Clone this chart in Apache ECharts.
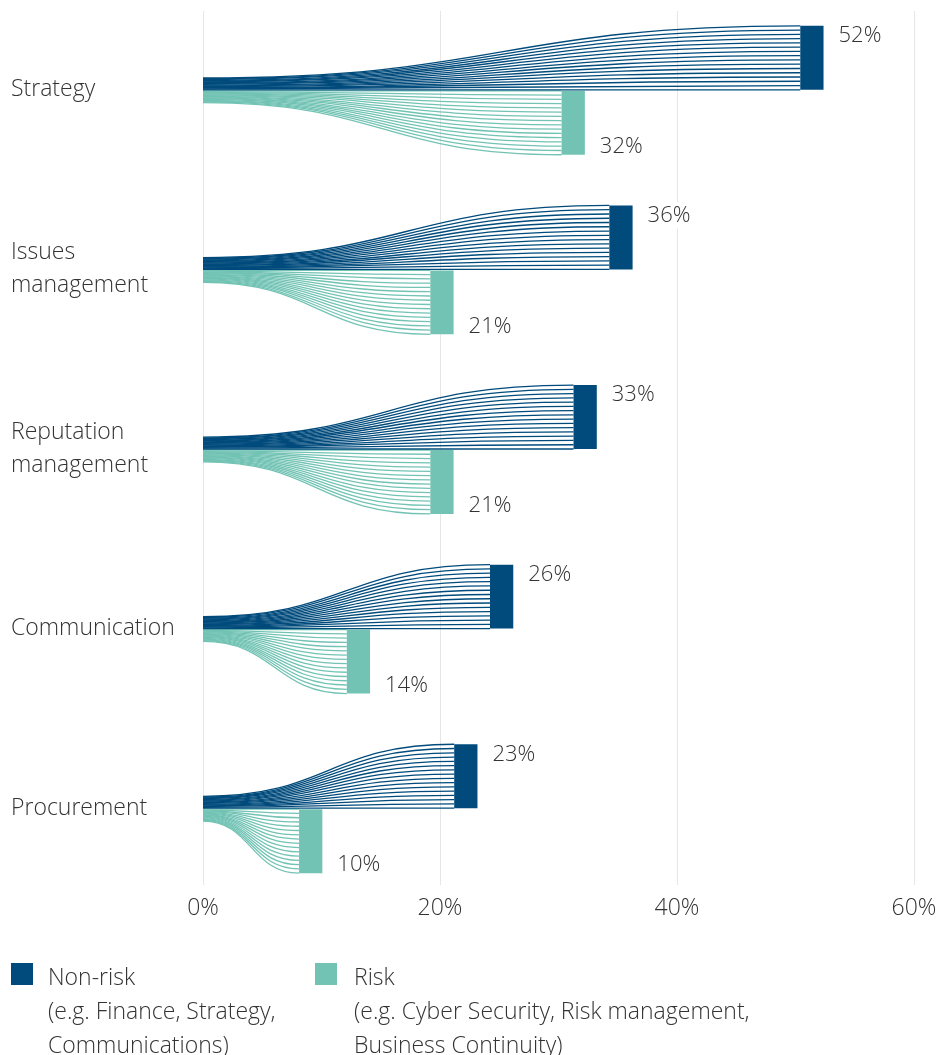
<!DOCTYPE html>
<html>
<head>
<meta charset="utf-8">
<script src="https://cdn.jsdelivr.net/npm/echarts@6/dist/echarts.min.js"></script>
<style>
  html, body { margin: 0; padding: 0; background: #fff; }
  #chart { width: 952px; height: 1055px; }
</style>
</head>
<body>
<div id="chart"></div>
<script>
const categories = ['Strategy', 'Issues\nmanagement', 'Reputation\nmanagement', 'Communication', 'Procurement'];
const nonRisk = [52, 36, 33, 26, 23];
const risk = [32, 21, 21, 14, 10];
const xTicks = [0, 20, 40, 60];
const seriesNames = ['Non-risk', 'Risk'];
const legendNotes = ['(e.g. Finance, Strategy,\nCommunications)', '(e.g. Cyber Security, Risk management,\nBusiness Continuity)'];

const COLORS = ['#004b7c', '#72c3b4'];
const FONT = "'Open Sans', 'Noto Sans', sans-serif";
const TEXT = '#333333';
const N_LINES = 16;
const BAR_W = 1.95; // in axis units (%)

function makeRender(kind) {
  return function (params, api) {
    const v = api.value(0);
    const ci = api.value(1);
    const base = api.coord([0, ci]);
    const end = api.coord([v, ci]);
    const barStart = api.coord([v - BAR_W, ci]);
    const band = api.size([0, 1])[1];
    const barH = band * 0.356;
    const stemH = band * 0.066;
    const dir = kind === 0 ? -1 : 1;
    const anchor = kind === 0 ? base[1] : base[1] + 1;
    const color = COLORS[kind];
    const children = [];
    for (let k = 0; k < N_LINES; k++) {
      const f = k / (N_LINES - 1);
      const ys = anchor + dir * f * stemH;
      const ye = anchor + dir * f * barH;
      const x1 = base[0], x2 = barStart[0];
      const cx = (x1 + x2) / 2;
      children.push({
        type: 'bezierCurve',
        shape: { x1: x1, y1: ys, x2: x2, y2: ye, cpx1: cx, cpy1: ys, cpx2: cx, cpy2: ye },
        style: { stroke: color, lineWidth: 1.3, fill: null }
      });
    }
    const top = Math.min(anchor, anchor + dir * barH);
    children.push({
      type: 'rect',
      shape: { x: barStart[0], y: top, width: end[0] - barStart[0], height: barH },
      style: { fill: color }
    });
    children.push({
      type: 'text',
      x: end[0] + 11,
      y: kind === 0 ? top - 3 : top + barH + 5,
      style: {
        text: v + '%',
        fontFamily: FONT,
        fontSize: 22,
        fontWeight: 300,
        fill: TEXT,
        align: 'left',
        verticalAlign: kind === 0 ? 'top' : 'bottom',
        backgroundColor: '#fff',
        padding: [2, 4, 2, 4]
      }
    });
    return { type: 'group', children: children };
  };
}

const chart = echarts.init(document.getElementById('chart'), null, { renderer: 'canvas' });

const option = {
  backgroundColor: '#fff',
  animation: false,
  textStyle: { fontFamily: FONT },
  grid: [
    { left: 203, right: 33, top: -2, height: 900 },
    { left: 203, right: 38, top: 11, height: 874 }
  ],
  xAxis: [
    { gridIndex: 0, type: 'value', min: 0, max: 60, show: false },
    {
      gridIndex: 1, type: 'value', min: 0, max: 60, interval: 20,
      axisLine: { show: false }, axisTick: { show: false },
      splitLine: { show: true, lineStyle: { color: '#e6e6e6', width: 1 } },
      axisLabel: {
        formatter: function (val) { return xTicks.indexOf(val) >= 0 ? val + '%' : ''; },
        fontFamily: FONT, fontSize: 23, fontWeight: 300, color: TEXT, margin: 12
      }
    }
  ],
  yAxis: [
    {
      gridIndex: 0, type: 'category', data: categories, inverse: true,
      axisLine: { show: false }, axisTick: { show: false }, splitLine: { show: false },
      axisLabel: {
        align: 'left', margin: 192, fontFamily: FONT, fontSize: 23, fontWeight: 300,
        lineHeight: 33, color: TEXT
      }
    },
    { gridIndex: 1, type: 'value', show: false, min: 0, max: 1 }
  ],
  series: [
    {
      name: seriesNames[0], type: 'custom', xAxisIndex: 0, yAxisIndex: 0,
      renderItem: makeRender(0),
      encode: { x: 0, y: 1 },
      data: nonRisk.map(function (v, i) { return [v, i]; }),
      z: 3
    },
    {
      name: seriesNames[1], type: 'custom', xAxisIndex: 0, yAxisIndex: 0,
      renderItem: makeRender(1),
      encode: { x: 0, y: 1 },
      data: risk.map(function (v, i) { return [v, i]; }),
      z: 2
    }
  ],
  graphic: [
    { type: 'rect', left: 11, top: 963, shape: { width: 22, height: 22 }, style: { fill: COLORS[0] } },
    { type: 'text', left: 48, top: 961, style: { text: seriesNames[0] + '\n' + legendNotes[0], fontFamily: FONT, fontSize: 23, fontWeight: 300, lineHeight: 34, fill: TEXT } },
    { type: 'rect', left: 315, top: 963, shape: { width: 22, height: 22 }, style: { fill: COLORS[1] } },
    { type: 'text', left: 354, top: 961, style: { text: seriesNames[1] + '\n' + legendNotes[1], fontFamily: FONT, fontSize: 23, fontWeight: 300, lineHeight: 34, fill: TEXT } }
  ]
};

chart.setOption(option);
</script>
</body>
</html>
